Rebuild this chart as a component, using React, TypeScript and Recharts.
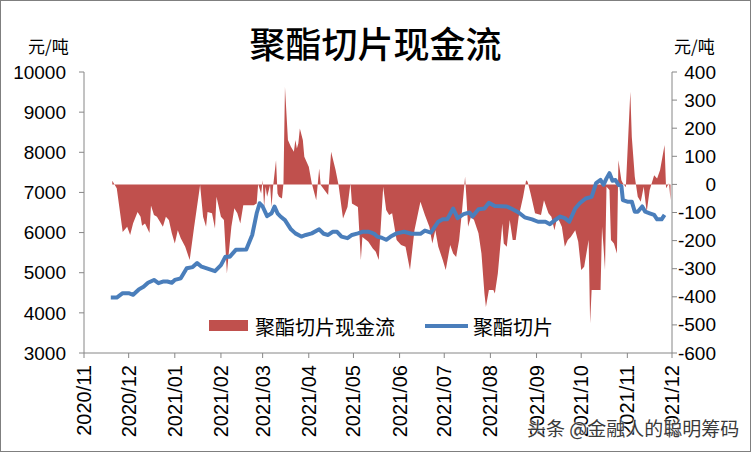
import { Area, ComposedChart, Line, XAxis, YAxis } from "recharts"

// 现金流 (right axis, 元/吨)
const cashDates = [
    "2020-11-20", "2020-11-23", "2020-11-27", "2020-11-30", "2020-12-02", "2020-12-04", "2020-12-07", "2020-12-09",
    "2020-12-10", "2020-12-12", "2020-12-15", "2020-12-16", "2020-12-18", "2020-12-20", "2020-12-24", "2020-12-26",
    "2020-12-28", "2020-12-30", "2021-01-01", "2021-01-03", "2021-01-05", "2021-01-08", "2021-01-11", "2021-01-14",
    "2021-01-18", "2021-01-20", "2021-01-22", "2021-01-23", "2021-01-26", "2021-01-28", "2021-01-29", "2021-02-01",
    "2021-02-03", "2021-02-05", "2021-02-06", "2021-02-08", "2021-02-10", "2021-02-12", "2021-02-14", "2021-02-16",
    "2021-02-19", "2021-02-23", "2021-02-25", "2021-02-26", "2021-02-28", "2021-03-01", "2021-03-02", "2021-03-03",
    "2021-03-04", "2021-03-06", "2021-03-07", "2021-03-08", "2021-03-10", "2021-03-11", "2021-03-12", "2021-03-14",
    "2021-03-15", "2021-03-16", "2021-03-18", "2021-03-20", "2021-03-22", "2021-03-23", "2021-03-24", "2021-03-25",
    "2021-03-26", "2021-03-28", "2021-03-29", "2021-04-01", "2021-04-03", "2021-04-06", "2021-04-08", "2021-04-09",
    "2021-04-14", "2021-04-16", "2021-04-19", "2021-04-21", "2021-04-24", "2021-04-27", "2021-04-29", "2021-04-30",
    "2021-05-04", "2021-05-06", "2021-05-07", "2021-05-11", "2021-05-14", "2021-05-16", "2021-05-18", "2021-05-21",
    "2021-05-23", "2021-05-25", "2021-05-27", "2021-05-30", "2021-06-02", "2021-06-05", "2021-06-08", "2021-06-11",
    "2021-06-15", "2021-06-18", "2021-06-21", "2021-06-23", "2021-06-25", "2021-06-27", "2021-06-30", "2021-07-02",
    "2021-07-05", "2021-07-07", "2021-07-09", "2021-07-11", "2021-07-13", "2021-07-15", "2021-07-16", "2021-07-17",
    "2021-07-19", "2021-07-21", "2021-07-24", "2021-07-26", "2021-07-28", "2021-07-29", "2021-07-31", "2021-08-03",
    "2021-08-04", "2021-08-06", "2021-08-09", "2021-08-10", "2021-08-12", "2021-08-14", "2021-08-16", "2021-08-18",
    "2021-08-20", "2021-08-23", "2021-08-25", "2021-08-26", "2021-08-28", "2021-08-31", "2021-09-04", "2021-09-06",
    "2021-09-09", "2021-09-11", "2021-09-13", "2021-09-15", "2021-09-18", "2021-09-20", "2021-09-22", "2021-09-24",
    "2021-09-27", "2021-09-29", "2021-10-01", "2021-10-03", "2021-10-06", "2021-10-07", "2021-10-08", "2021-10-11",
    "2021-10-14", "2021-10-15", "2021-10-16", "2021-10-17", "2021-10-18", "2021-10-20", "2021-10-21", "2021-10-23",
    "2021-10-25", "2021-10-26", "2021-10-28", "2021-10-29", "2021-10-31", "2021-11-03", "2021-11-04", "2021-11-06",
    "2021-11-08", "2021-11-10", "2021-11-12", "2021-11-14", "2021-11-16", "2021-11-19", "2021-11-21", "2021-11-23",
    "2021-11-26", "2021-11-27", "2021-11-29", "2021-11-30",
]
const cashValues = [
    13, -14, -169, -151, -180, -138, -98, -115,
    -147, -139, -173, -75, -109, -115, -151, -115,
    -127, -174, -210, -163, -192, -222, -269, -151,
    -2, -115, -151, -98, -103, -157, -44, -115,
    -127, -317, -258, -151, -85, -103, -139, -74,
    -74, -74, -68, 1, -32, 15, -80, -8,
    -44, -2, -80, -8, 86, -32, -44, -50,
    4, 347, 158, 134, 116, 158, 128, 146,
    199, 158, 98, 63, 4, -56, 57, -2,
    -38, 116, 51, -2, -121, -80, 4, -68,
    -80, -269, -187, -204, -228, -240, -269, -8,
    -91, -109, -103, -198, -216, -222, -305, -163,
    -62, -109, -151, -210, -163, -222, -269, -305,
    -216, -246, -258, -198, -91, 27, -56, -151,
    -115, -127, -174, -246, -388, -436, -376, -376,
    -388, -317, -139, -210, -222, -127, -198, -198,
    -115, -44, 15, 9, -32, -103, -109, -56,
    -103, -115, -163, -115, -151, -222, -198, -187,
    -163, -204, -305, -293, -198, -495, -376, -376,
    -376, -151, -222, -305, -8, -20, -198, -210,
    -246, 86, 15, 4, -10, 330, 169, 27,
    -44, -62, -8, -98, -20, 33, 21, 51,
    140, -14, 4, -56,
]

// 聚酯切片价格 (left axis, 元/吨)
const priceDates = [
    "2020-11-19", "2020-11-23", "2020-11-27", "2020-12-01", "2020-12-04", "2020-12-08", "2020-12-11", "2020-12-14",
    "2020-12-18", "2020-12-21", "2020-12-24", "2020-12-27", "2020-12-30", "2021-01-01", "2021-01-05", "2021-01-09",
    "2021-01-13", "2021-01-16", "2021-01-19", "2021-01-24", "2021-01-28", "2021-02-01", "2021-02-04", "2021-02-07",
    "2021-02-11", "2021-02-18", "2021-02-22", "2021-02-25", "2021-02-27", "2021-03-01", "2021-03-04", "2021-03-07",
    "2021-03-09", "2021-03-11", "2021-03-13", "2021-03-16", "2021-03-20", "2021-03-23", "2021-03-27", "2021-03-30",
    "2021-04-03", "2021-04-08", "2021-04-11", "2021-04-14", "2021-04-17", "2021-04-20", "2021-04-23", "2021-04-27",
    "2021-04-30", "2021-05-04", "2021-05-07", "2021-05-11", "2021-05-13", "2021-05-15", "2021-05-17", "2021-05-20",
    "2021-05-23", "2021-05-26", "2021-05-30", "2021-06-04", "2021-06-09", "2021-06-15", "2021-06-18", "2021-06-22",
    "2021-06-27", "2021-06-30", "2021-07-03", "2021-07-07", "2021-07-10", "2021-07-14", "2021-07-18", "2021-07-20",
    "2021-07-24", "2021-07-28", "2021-07-31", "2021-08-04", "2021-08-12", "2021-08-15", "2021-08-20", "2021-08-24",
    "2021-08-29", "2021-09-02", "2021-09-07", "2021-09-10", "2021-09-13", "2021-09-17", "2021-09-20", "2021-09-23",
    "2021-09-27", "2021-09-30", "2021-10-04", "2021-10-08", "2021-10-11", "2021-10-14", "2021-10-16", "2021-10-18",
    "2021-10-20", "2021-10-22", "2021-10-24", "2021-10-26", "2021-10-28", "2021-10-29", "2021-11-01", "2021-11-04",
    "2021-11-06", "2021-11-08", "2021-11-11", "2021-11-13", "2021-11-16", "2021-11-19", "2021-11-21", "2021-11-24",
    "2021-11-26",
]
const priceValues = [
    4380, 4380, 4490, 4490, 4450, 4590, 4650, 4750,
    4820, 4740, 4780, 4780, 4750, 4820, 4860, 5110,
    5140, 5240, 5150, 5090, 5040, 5190, 5400, 5400,
    5570, 5580, 5940, 6480, 6730, 6650, 6410, 6480,
    6650, 6480, 6400, 6310, 6080, 5980, 5900, 5940,
    5980, 6080, 5970, 5940, 6020, 6020, 5900, 5860,
    5940, 5980, 6020, 6020, 6000, 5970, 5900, 5870,
    5820, 5900, 5980, 6020, 5970, 5970, 6050, 6000,
    6270, 6330, 6330, 6600, 6360, 6460, 6500, 6400,
    6580, 6600, 6740, 6660, 6650, 6600, 6500, 6380,
    6330, 6270, 6270, 6210, 6300, 6400, 6360, 6270,
    6600, 6730, 6850, 6890, 7230, 7310, 7190, 7350,
    7480, 7290, 7310, 7190, 7160, 6810, 6770, 6770,
    6520, 6520, 6650, 6520, 6480, 6440, 6330, 6330,
    6440,
]

const monthTicks = [
    "2020-11-01", "2020-12-01", "2021-01-01", "2021-02-01", "2021-03-01", "2021-04-01", "2021-05-01",
    "2021-06-01", "2021-07-01", "2021-08-01", "2021-09-01", "2021-10-01", "2021-11-01", "2021-12-01",
]
const leftTicks = [3000, 4000, 5000, 6000, 7000, 8000, 9000, 10000]
const rightTicks = [-600, -500, -400, -300, -200, -100, 0, 100, 200, 300, 400]

const toTime = (s: string) => {
    const [y, m, d] = s.split("-").map(Number)
    return Date.UTC(y, m - 1, d)
}

type Row = { t: number; cash?: number; price?: number }
const rowMap = new Map<number, Row>()
cashDates.forEach((d, i) => {
    const t = toTime(d)
    const r = rowMap.get(t) ?? { t }
    r.cash = cashValues[i]
    rowMap.set(t, r)
})
priceDates.forEach((d, i) => {
    const t = toTime(d)
    const r = rowMap.get(t) ?? { t }
    r.price = priceValues[i]
    rowMap.set(t, r)
})
const rows = [...rowMap.values()].sort((a, b) => a.t - b.t)
const tickTimes = monthTicks.map(toTime)

const RED = "#C0504D"
const BLUE = "#4A7EBB"
const AXIS = "#868686"
const NUM_FONT = "'Liberation Sans', Arial, sans-serif"
const CJK_FONT = "'Noto Sans CJK SC', sans-serif"

const fmtMonth = (t: number) => {
    const d = new Date(t)
    return `${d.getUTCFullYear()}/${String(d.getUTCMonth() + 1).padStart(2, "0")}`
}

const DateTick = ({ x, y, payload }: any) => (
    <text
        x={x}
        y={y + 5}
        transform={`rotate(-90, ${x}, ${y + 5})`}
        textAnchor="end"
        dominantBaseline="central"
        fontSize={20}
        fontFamily={NUM_FONT}
        fill="#000"
    >
        {fmtMonth(payload.value)}
    </text>
)

const RightTick = ({ x, y, payload }: any) => (
    <text x={x + 37} y={y} textAnchor="end" dominantBaseline="central" fontSize={19} fontFamily={NUM_FONT} fill="#000">
        {payload.value}
    </text>
)

const LegendBox = () => (
    <svg width={360} height={30} style={{ position: "absolute", left: 205, top: 311, overflow: "visible" }}>
        <rect x={4} y={9} width={39} height={11} fill={RED} />
        <text x={50} y={15} dominantBaseline="central" fontSize={20} fontFamily={CJK_FONT} fill="#000">
            聚酯切片现金流
        </text>
        <line x1={220} x2={263} y1={15} y2={15} stroke={BLUE} strokeWidth={4} />
        <text x={268} y={15} dominantBaseline="central" fontSize={20} fontFamily={CJK_FONT} fill="#000">
            聚酯切片
        </text>
    </svg>
)

const App = () => {
    return (
        <div style={{ position: "absolute", left: 0, top: 0, width: 751, height: 452, background: "#fff" }}>
            <ComposedChart width={751} height={452} data={rows} margin={{ top: 72, right: 0, bottom: 0, left: 0 }}>
                <XAxis
                    dataKey="t"
                    type="number"
                    domain={[tickTimes[0], tickTimes[tickTimes.length - 1]]}
                    ticks={tickTimes}
                    interval={0}
                    height={99}
                    tickSize={5}
                    stroke={AXIS}
                    tick={<DateTick />}
                    allowDataOverflow
                />
                <YAxis
                    yAxisId="left"
                    domain={[3000, 10000]}
                    ticks={leftTicks}
                    interval={0}
                    width={84}
                    tickSize={5}
                    tickMargin={13}
                    stroke={AXIS}
                    tick={{ fontSize: 19, fontFamily: NUM_FONT, fill: "#000" }}
                />
                <YAxis
                    yAxisId="right"
                    orientation="right"
                    domain={[-600, 400]}
                    ticks={rightTicks}
                    interval={0}
                    width={79}
                    tickSize={5}
                    stroke={AXIS}
                    tick={<RightTick />}
                />
                <Area
                    yAxisId="right"
                    dataKey="cash"
                    name="聚酯切片现金流"
                    type="linear"
                    baseValue={0}
                    stroke="none"
                    fill={RED}
                    fillOpacity={1}
                    connectNulls
                    isAnimationActive={false}
                />
                <Line
                    yAxisId="left"
                    dataKey="price"
                    name="聚酯切片"
                    type="linear"
                    stroke={BLUE}
                    strokeWidth={4}
                    dot={false}
                    connectNulls
                    strokeLinejoin="round"
                    isAnimationActive={false}
                />
            </ComposedChart>
            <LegendBox />
            <div
                style={{
                    position: "absolute", left: 0, right: 0, top: 20, textAlign: "center",
                    fontFamily: CJK_FONT, fontSize: 36, fontWeight: 500, lineHeight: "44px", color: "#000",
                }}
            >
                聚酯切片现金流
            </div>
            <div style={{ position: "absolute", left: 28, top: 35, fontFamily: CJK_FONT, fontSize: 17, lineHeight: "22px" }}>
                元/吨
            </div>
            <div style={{ position: "absolute", left: 674, top: 35, fontFamily: CJK_FONT, fontSize: 17, lineHeight: "22px" }}>
                元/吨
            </div>
            <div
                style={{
                    position: "absolute", left: 527, top: 416, fontFamily: CJK_FONT, fontSize: 19, lineHeight: "24px",
                    color: "#3a3a3a", textShadow: "0 0 2px #fff, 0 0 2px #fff",
                }}
            >
                头条 @金融人的聪明筹码
            </div>
            <div
                style={{
                    position: "absolute", left: 0, top: 0, width: 751, height: 452, boxSizing: "border-box",
                    border: "1px solid #7f7f7f", pointerEvents: "none",
                }}
            />
        </div>
    )
}

export default App
